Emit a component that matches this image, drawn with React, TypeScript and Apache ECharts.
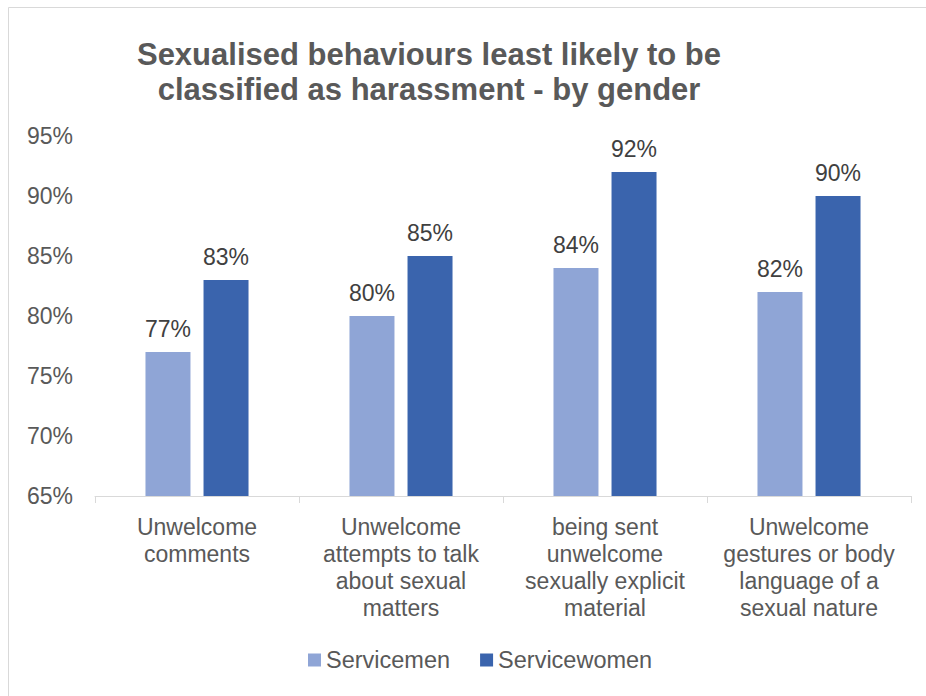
import React, { useEffect, useRef } from "react";
import * as echarts from "echarts";

const categories = [
  "Unwelcome\ncomments",
  "Unwelcome\nattempts to talk\nabout sexual\nmatters",
  "being sent\nunwelcome\nsexually explicit\nmaterial",
  "Unwelcome\ngestures or body\nlanguage of a\nsexual nature",
];
const servicemen = [77, 80, 84, 82];
const servicewomen = [83, 85, 92, 90];
const seriesNames = ["Servicemen", "Servicewomen"];
const titleText = "Sexualised behaviours least likely to be\nclassified as harassment - by gender";

const FONT = "'Liberation Sans', Arial, sans-serif";

export default function App() {
  const ref = useRef<HTMLDivElement>(null);
  useEffect(() => {
    if (!ref.current) return;
    const chart = echarts.init(ref.current, undefined, { renderer: "svg" });
    const labelCfg = {
      show: true,
      position: "top",
      distance: 12,
      formatter: "{c}%",
      color: "#404040",
      fontSize: 23,
      fontFamily: FONT,
    };
    chart.setOption({
      animation: false,
      backgroundColor: "#ffffff",
      title: {
        text: titleText,
        left: 424,
        top: 32,
        textAlign: "center",
        textStyle: {
          color: "#595959",
          fontSize: 31,
          fontWeight: "bold",
          fontFamily: FONT,
          lineHeight: 35,
        },
      },
      graphic: [
        {
          type: "polyline",
          shape: { points: [[8.5, 700], [8.5, 7.5], [930, 7.5]] },
          style: { stroke: "#D9D9D9", fill: null, lineWidth: 1 },
          silent: true,
        },
      ],
      legend: {
        data: seriesNames,
        left: 303,
        top: 643,
        itemWidth: 13,
        itemHeight: 13,
        itemGap: 30,
        icon: "rect",
        textStyle: { color: "#595959", fontSize: 23.5, fontFamily: FONT },
      },
      grid: { left: 95, right: 15, top: 136, bottom: 200, containLabel: false },
      xAxis: {
        type: "category",
        data: categories,
        axisLine: { show: true, lineStyle: { color: "#D9D9D9", width: 1 } },
        axisTick: { show: true, length: 7, lineStyle: { color: "#D9D9D9" } },
        axisLabel: {
          color: "#595959",
          fontSize: 23,
          fontFamily: FONT,
          lineHeight: 27,
          margin: 17,
          interval: 0,
        },
      },
      yAxis: {
        type: "value",
        min: 65,
        max: 95,
        interval: 5,
        axisLine: { show: false },
        axisTick: { show: false },
        splitLine: { show: false },
        axisLabel: {
          formatter: "{value}%",
          color: "#595959",
          fontSize: 23,
          fontFamily: FONT,
          margin: 22,
        },
      },
      series: [
        {
          name: seriesNames[0],
          type: "bar",
          data: servicemen,
          barWidth: 45,
          barGap: "29%",
          itemStyle: { color: "#8FA5D6" },
          label: labelCfg,
        },
        {
          name: seriesNames[1],
          type: "bar",
          data: servicewomen,
          barWidth: 45,
          itemStyle: { color: "#3A64AD" },
          label: labelCfg,
        },
      ],
    });
    return () => chart.dispose();
  }, []);
  return (
    <div
      ref={ref}
      style={{ position: "absolute", left: 0, top: 0, width: 926, height: 696 }}
    />
  );
}
